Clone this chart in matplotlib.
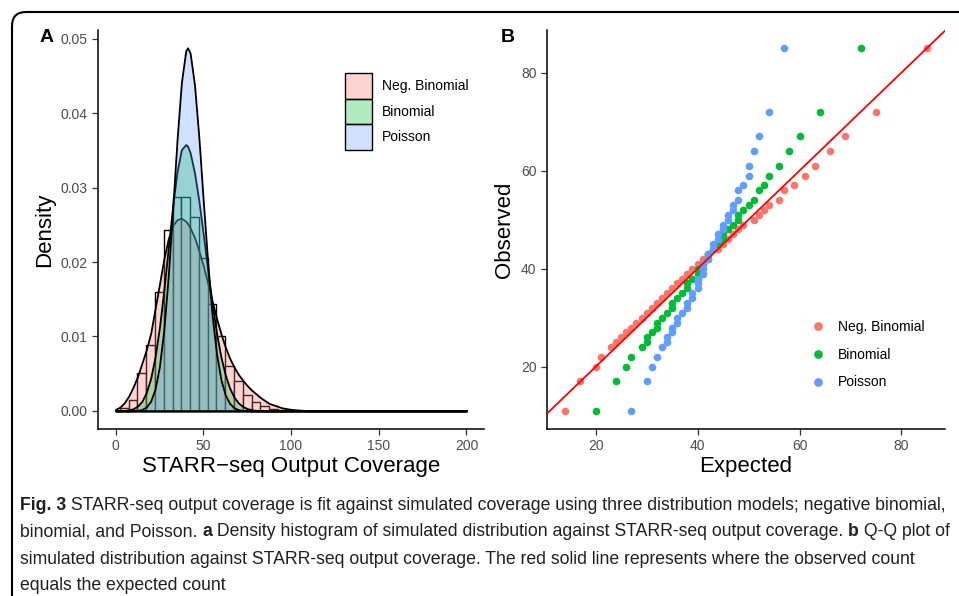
import matplotlib
matplotlib.use("Agg")
import matplotlib.pyplot as plt
from matplotlib import font_manager
from matplotlib.patches import Patch, FancyBboxPatch
from matplotlib.lines import Line2D
from matplotlib.transforms import IdentityTransform

plt.rcParams['font.family'] = ['Liberation Sans', 'DejaVu Sans']

# ---- panel A: histogram of coverage (bin left edges, width 5) ----
hist_left = [2.5, 7.5, 12.5, 17.5, 22.5, 27.5, 32.5, 37.5, 42.5, 47.5,
             52.5, 57.5, 62.5, 67.5, 72.5, 77.5, 82.5, 87.5, 92.5]
hist_density = [0.0004, 0.0015, 0.0051, 0.0089, 0.0160, 0.0243, 0.0288, 0.0288,
                0.0260, 0.0206, 0.0144, 0.0101, 0.0060, 0.0040, 0.0021, 0.0012,
                0.0006, 0.0003, 0.0001]

# ---- panel A: density curves ----
dens_x = [0, 2.5, 5, 7.5, 10, 12.5, 15, 17.5, 20, 22.5, 25, 27.5, 30, 32.5, 35,
          37.5, 40, 41, 42.5, 45, 47.5, 50, 52.5, 55, 57.5, 60, 62.5, 65, 67.5,
          70, 72.5, 75, 77.5, 80, 82.5, 85, 87.5, 90, 92.5, 95, 97.5, 100, 105,
          110, 200]
dens_negbin = [0.0002, 0.0005, 0.0011, 0.0020, 0.0032, 0.0046, 0.0064, 0.0082,
               0.0104, 0.0137, 0.0170, 0.0204, 0.0231, 0.0249, 0.0257, 0.0259,
               0.0255, 0.0252, 0.0246, 0.0233, 0.0215, 0.0195, 0.0172, 0.0148,
               0.0125, 0.0104, 0.0086, 0.0071, 0.0059, 0.0049, 0.0041, 0.0034,
               0.0028, 0.0023, 0.0018, 0.0014, 0.0010, 0.0008, 0.0006, 0.0004,
               0.0003, 0.0002, 0.0001, 0.0, 0.0]
dens_binom = [0.0, 0.00001, 0.00005, 0.00012, 0.00029, 0.00063, 0.00128, 0.00246,
              0.00437, 0.00724, 0.0112, 0.0162, 0.0218, 0.0274, 0.0321, 0.0351,
              0.0358, 0.0356, 0.0347, 0.0320, 0.0282, 0.0237, 0.0189, 0.0145,
              0.0105, 0.0073, 0.00486, 0.00307, 0.00185, 0.00107, 0.00059,
              0.00031, 0.00015, 0.00007, 0.00003, 0.00001, 0.0, 0.0, 0.0, 0.0,
              0.0, 0.0, 0.0, 0.0, 0.0]
dens_pois = [0.0, 0.0, 0.0, 0.0, 0.00001, 0.00006, 0.00019, 0.00052, 0.0013,
             0.00293, 0.00597, 0.0109, 0.0180, 0.0269, 0.0363, 0.0441, 0.0484,
             0.0488, 0.0481, 0.0438, 0.0367, 0.0282, 0.0200, 0.0129, 0.00774,
             0.00426, 0.00215, 0.0010, 0.00042, 0.00016, 0.00006, 0.00002, 0.0,
             0.0, 0.0, 0.0, 0.0, 0.0, 0.0, 0.0, 0.0, 0.0, 0.0, 0.0, 0.0]

# ---- panel B: Q-Q points ----
observed = [11, 17, 20, 22, 24, 25, 26, 27, 28, 29, 30, 31, 32, 33, 34, 35, 36,
            37, 38, 39, 40, 41, 42, 43, 44, 45, 46, 47, 48, 49, 50, 51, 52, 53,
            54, 56, 57, 59, 61, 64, 67, 72, 85]
exp_negbin = [14, 17, 20, 21, 23, 24, 25, 26, 27, 28, 29, 30, 31, 32, 33, 34, 35,
              36, 37, 38, 39, 40, 41, 42, 44, 45, 46, 47, 48, 49, 51, 52, 53, 54,
              56, 57, 59, 61, 63, 66, 69, 75, 85]
exp_binom = [20, 24, 26, 27, 29, 30, 30, 31, 32, 32, 33, 34, 35, 35, 36, 37, 38,
             38, 39, 40, 40, 41, 42, 42, 43, 44, 45, 45, 46, 47, 48, 48, 49, 50,
             51, 52, 53, 54, 56, 58, 60, 64, 72]
exp_pois = [27, 30, 31, 32, 33, 34, 34, 35, 35, 36, 36, 37, 38, 38, 39, 39, 40,
            40, 40, 41, 41, 41, 42, 42, 43, 43, 44, 44, 45, 45, 46, 46, 47, 47,
            48, 48, 49, 50, 50, 51, 52, 54, 57]

labels = ["Neg. Binomial", "Binomial", "Poisson"]
colors = ["#F8766D", "#00BA38", "#619CFF"]
FILL_ALPHA = 0.3
TICK_GREY = "#4D4D4D"

fig = plt.figure(figsize=(9.59, 5.96), dpi=100)

# rounded frame around the figure block (open on the right/bottom)
frame = FancyBboxPatch((12, -30), 1000, 596 - 12 + 30,
                       boxstyle="round,pad=0,rounding_size=14",
                       transform=IdentityTransform(), fill=False,
                       edgecolor="black", linewidth=1.5)
fig.add_artist(frame)


def style_axes(ax):
    for side in ["top", "right"]:
        ax.spines[side].set_visible(False)
    for side in ["left", "bottom"]:
        ax.spines[side].set_linewidth(1.1)
        ax.spines[side].set_color("black")
    ax.tick_params(axis="both", labelsize=10, labelcolor=TICK_GREY,
                   color="#333333", length=4, width=0.9)


# ---------------- panel A ----------------
axA = fig.add_axes([0.1022, 0.2802, 0.4025, 0.6695])
axA.bar(hist_left, hist_density, width=5, align="edge", facecolor="white",
        edgecolor="black", linewidth=1.0, zorder=1)
for ys, col in zip([dens_negbin, dens_binom, dens_pois], colors):
    axA.fill_between(dens_x, ys, 0, facecolor=matplotlib.colors.to_rgba(col, FILL_ALPHA),
                     edgecolor="black", linewidth=1.3, zorder=2)
axA.set_xlim(-10, 210)
axA.set_ylim(-0.00244, 0.0512)
axA.set_xticks([0, 50, 100, 150, 200])
axA.set_yticks([0.0, 0.01, 0.02, 0.03, 0.04, 0.05])
axA.set_yticklabels(["0.00", "0.01", "0.02", "0.03", "0.04", "0.05"])
axA.set_xlabel("STARR\u2212seq Output Coverage", fontsize=16, labelpad=2)
axA.set_ylabel("Density", fontsize=16, labelpad=4)
style_axes(axA)
handlesA = [Patch(facecolor=matplotlib.colors.to_rgba(c, FILL_ALPHA),
                  edgecolor="black", linewidth=1.0) for c in colors]
axA.legend(handlesA, labels, loc="upper left", bbox_to_anchor=(0.625, 0.905),
           frameon=False, fontsize=10, handlelength=1.95, handleheight=2.45,
           labelspacing=0.0, handletextpad=0.75, borderaxespad=0)
fig.text(47 / 959, 1 - 38 / 596, "A", fontsize=14, fontweight="bold",
         ha="center", va="center")

# ---------------- panel B ----------------
axB = fig.add_axes([0.5704, 0.2802, 0.4150, 0.6695])
for xs, col, lab in zip([exp_negbin, exp_binom, exp_pois], colors, labels):
    axB.scatter(xs, observed, s=30, color=col, linewidths=0, label=lab, zorder=2)
axB.axline((0, 0), slope=1, color="red", linewidth=1.3, zorder=3)
axB.set_xlim(10.45, 88.55)
axB.set_ylim(7.3, 88.7)
axB.set_xticks([20, 40, 60, 80])
axB.set_yticks([20, 40, 60, 80])
axB.set_xlabel("Expected", fontsize=16, labelpad=2)
axB.set_ylabel("Observed", fontsize=16, labelpad=4)
style_axes(axB)
handlesB = [Line2D([], [], marker="o", linestyle="none", markersize=6.3,
                   markerfacecolor=c, markeredgewidth=0) for c in colors]
axB.legend(handlesB, labels, loc="upper left", bbox_to_anchor=(0.64, 0.288),
           frameon=False, fontsize=10, handlelength=1.6, labelspacing=1.0,
           handletextpad=0.6, borderaxespad=0)
fig.text(508 / 959, 1 - 38 / 596, "B", fontsize=14, fontweight="bold",
         ha="center", va="center")

# ---------------- caption ----------------
try:
    font_manager.findfont("Liberation Sans Narrow", fallback_to_default=False)
    cap_family = ["Liberation Sans Narrow", "DejaVu Sans"]
    cap_size = 14.5
except ValueError:
    cap_family = ["Liberation Sans", "DejaVu Sans"]
    cap_size = 12.7

caption_lines = [
    [("Fig. 3", True), (" STARR-seq output coverage is fit against simulated coverage using three distribution models; negative binomial,", False)],
    [("binomial, and Poisson. ", False), ("a", True), (" Density histogram of simulated distribution against STARR-seq output coverage. ", False), ("b", True), (" Q-Q plot of", False)],
    [("simulated distribution against STARR-seq output coverage. The red solid line represents where the observed count", False)],
    [("equals the expected count", False)],
]
caption_y = [505, 532, 559, 586]

renderer = fig.canvas.get_renderer()
for parts, ypix in zip(caption_lines, caption_y):
    x = 20 / 959
    for txt, bold in parts:
        t = fig.text(x, 1 - ypix / 596, txt, fontsize=cap_size, family=cap_family,
                     fontweight="bold" if bold else "normal", va="center",
                     ha="left", color="#231F20")
        x += t.get_window_extent(renderer=renderer).width / fig.bbox.width

fig.savefig("out.png", dpi=100)
